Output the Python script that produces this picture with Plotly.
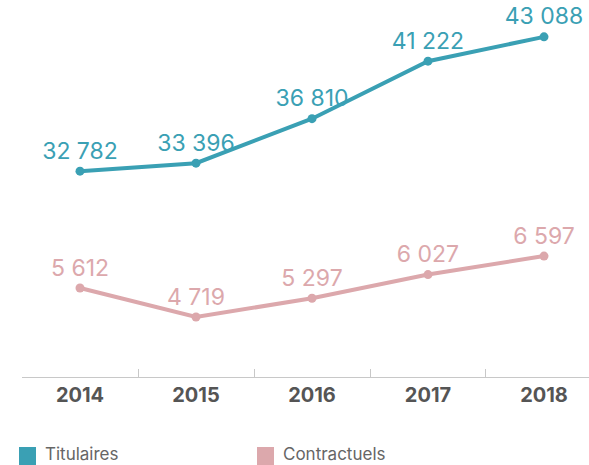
import plotly.graph_objects as go

years = ["2014", "2015", "2016", "2017", "2018"]
titulaires = [32782, 33396, 36810, 41222, 43088]
contractuels = [5612, 4719, 5297, 6027, 6597]

TEAL = "#3aa0b4"
PINK = "#dca8ac"
LABEL_FONT = "Inter"

fig = go.Figure()

fig.add_trace(go.Scatter(
    x=years, y=titulaires, name="Titulaires", mode="lines+markers+text",
    line=dict(color=TEAL, width=4), marker=dict(color=TEAL, size=9),
    texttemplate="%{y:,}", textposition="top center",
    textfont=dict(family=LABEL_FONT, size=23, color=TEAL),
    cliponaxis=False, yaxis="y", showlegend=False,
))

fig.add_trace(go.Scatter(
    x=years, y=contractuels, name="Contractuels", mode="lines+markers+text",
    line=dict(color=PINK, width=4), marker=dict(color=PINK, size=9),
    texttemplate="%{y:,}", textposition="top center",
    textfont=dict(family=LABEL_FONT, size=23, color=PINK),
    cliponaxis=False, yaxis="y2", showlegend=False,
))

# Custom legend at the bottom: coloured squares plus labels
legend_items = [("Titulaires", TEAL, 19), ("Contractuels", PINK, 257)]
for label, color, x0 in legend_items:
    fig.add_shape(type="rect", xref="paper", yref="paper",
                  x0=(x0 - 22) / 567, x1=(x0 + 17 - 22) / 567,
                  y0=-(447 - 377) / 377, y1=-(465 - 377) / 377,
                  fillcolor=color, line=dict(width=0))
    fig.add_annotation(text=label, xref="paper", yref="paper",
                       x=(x0 + 25 - 22) / 567, y=-(454 - 377) / 377,
                       xanchor="left", yanchor="middle", showarrow=False,
                       borderpad=0,
                       font=dict(family=LABEL_FONT, size=17, color="#666666"))

fig.update_layout(
    width=589, height=465,
    margin=dict(l=22, r=0, t=0, b=88),
    paper_bgcolor="white", plot_bgcolor="white",
    separators=". ",
    xaxis=dict(
        type="category", range=[-0.5, 4.388],
        showline=True, linecolor="#c8c8c8", linewidth=1,
        ticks="inside", tickson="boundaries", ticklen=8, tickcolor="#c8c8c8",
        showgrid=False, zeroline=False,
        tickfont=dict(family=LABEL_FONT, size=20, color="#555555", weight="bold"),
    ),
    yaxis=dict(range=[16987, 45916], visible=False, showgrid=False),
    yaxis2=dict(range=[2869, 14491], visible=False, showgrid=False,
                overlaying="y"),
)

fig.write_html("out.html")
